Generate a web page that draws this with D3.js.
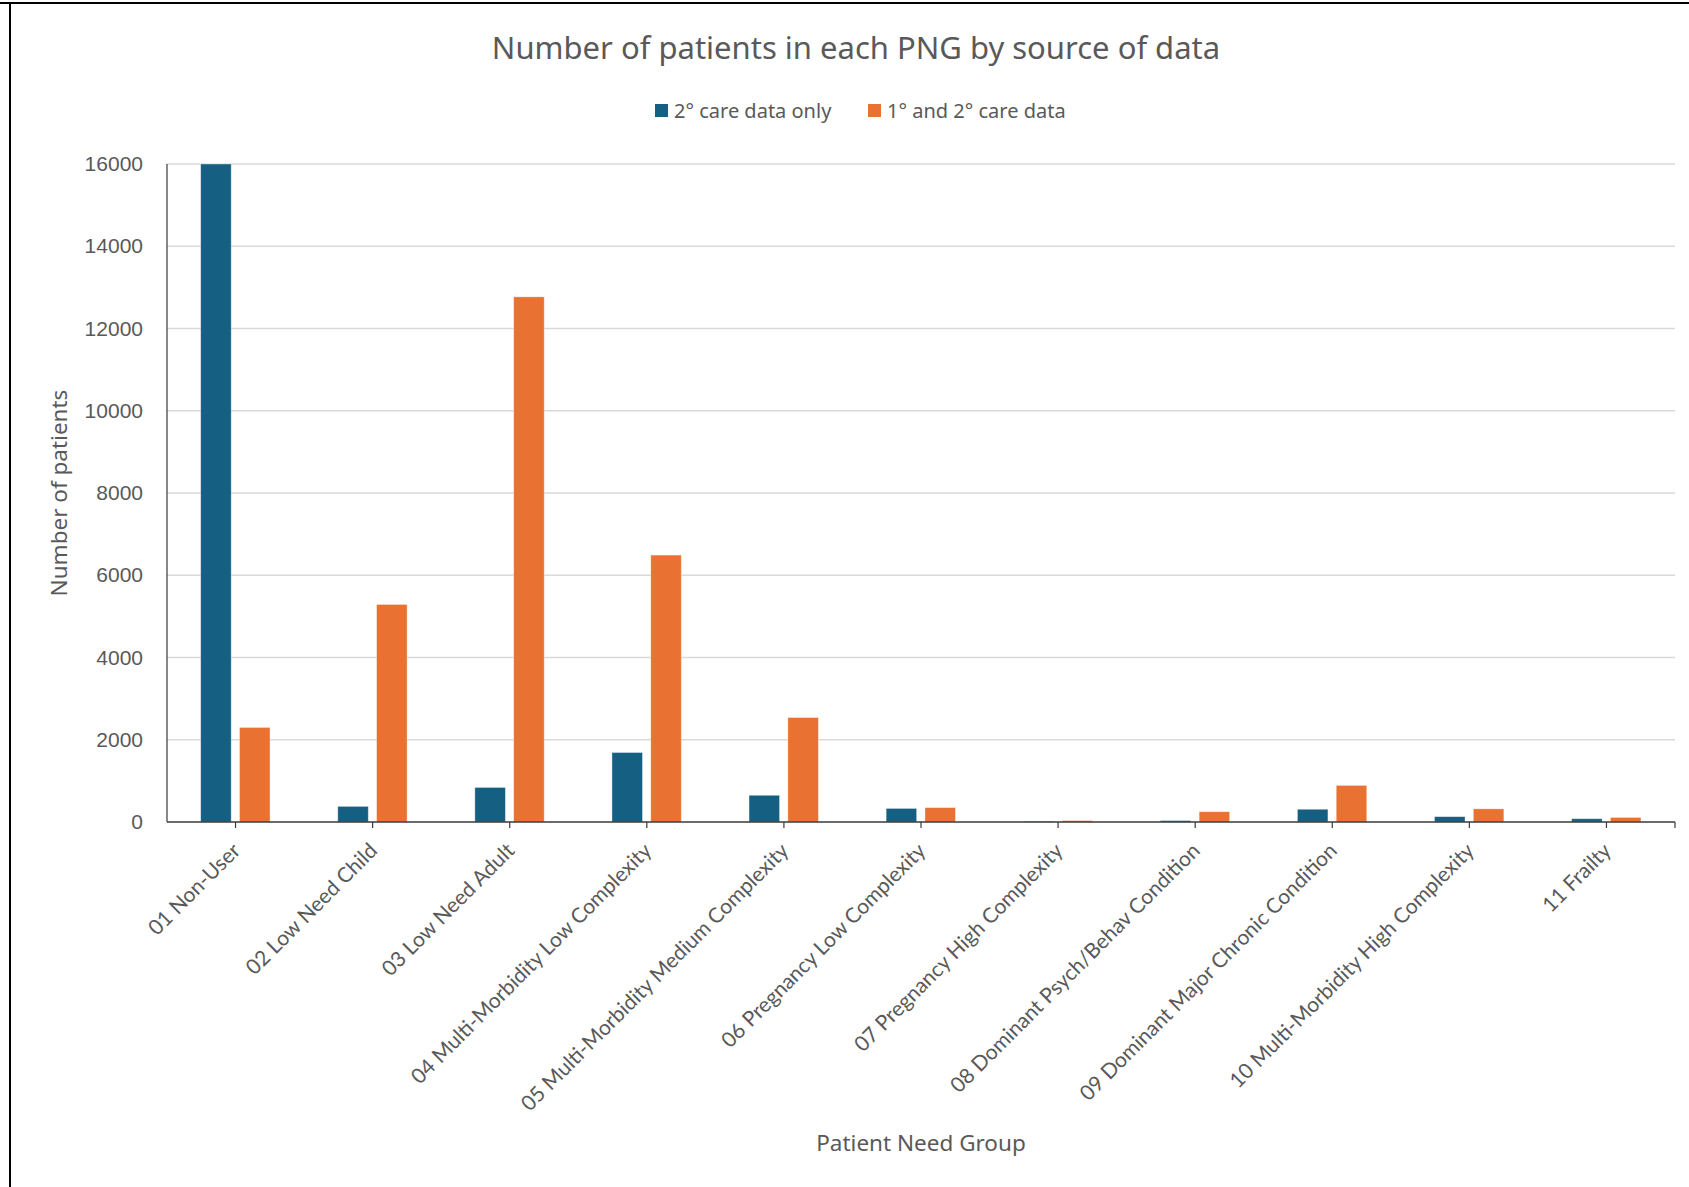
<!DOCTYPE html>
<html>
<head>
<meta charset="utf-8">
<script src="https://cdn.jsdelivr.net/npm/d3@7"></script>
<style>
  html, body { margin: 0; padding: 0; background: #fff; }
  svg { display: block; }
</style>
</head>
<body>
<svg id="chart" width="1689" height="1187"></svg>
<script>
// Patient Need Groups and counts for each data source
const categories = [
  "01 Non-User",
  "02 Low Need Child",
  "03 Low Need Adult",
  "04 Multi-Morbidity Low Complexity",
  "05 Multi-Morbidity Medium Complexity",
  "06 Pregnancy Low Complexity",
  "07 Pregnancy High Complexity",
  "08 Dominant Psych/Behav Condition",
  "09 Dominant Major Chronic Condition",
  "10 Multi-Morbidity High Complexity",
  "11 Frailty"
];
const seriesNames = ["2° care data only", "1° and 2° care data"];
const secondaryOnly = [16000, 380, 840, 1690, 650, 330, 15, 35, 310, 130, 80];
const primaryAndSecondary = [2300, 5290, 12770, 6490, 2540, 350, 35, 250, 890, 320, 110];
const yTicks = [0, 2000, 4000, 6000, 8000, 10000, 12000, 14000, 16000];

const colors = ["#156082", "#E97132"];
const textColor = "#595959";

const rows = categories.map((c, i) => ({
  category: c,
  values: [secondaryOnly[i], primaryAndSecondary[i]]
}));

const svg = d3.select("#chart");
const margin = { left: 167, right: 14, top: 164, bottom: 365 };
const W = 1689, H = 1187;
const x0 = margin.left, x1 = W - margin.right;
const yTop = margin.top, yBase = H - margin.bottom;

// Frame lines of the chart area
svg.append("line").attr("x1", 0).attr("x2", W).attr("y1", 3).attr("y2", 3)
  .attr("stroke", "#000").attr("stroke-width", 2);
svg.append("line").attr("x1", 10).attr("x2", 10).attr("y1", 3).attr("y2", H)
  .attr("stroke", "#000").attr("stroke-width", 2);

const x = d3.scaleBand().domain(categories).range([x0, x1]).padding(0);
const bw = x.bandwidth();
const xs = d3.scaleBand().domain([0, 1])
  .range([bw * 0.2457, bw * 0.7515]).paddingInner(0.214).paddingOuter(0);
const y = d3.scaleLinear().domain([0, 16000]).range([yBase, yTop]);

// Horizontal gridlines
svg.append("g").selectAll("line").data(yTicks.filter(t => t > 0)).join("line")
  .attr("x1", x0).attr("x2", x1)
  .attr("y1", d => y(d)).attr("y2", d => y(d))
  .attr("stroke", "#D9D9D9").attr("stroke-width", 1.5);

// Y axis labels
const yAxis = d3.axisLeft(y).tickValues(yTicks).tickSize(0).tickPadding(24)
  .tickFormat(d3.format("d"));
const gy = svg.append("g").attr("transform", `translate(${x0},0)`).call(yAxis);
gy.select(".domain").remove();
gy.selectAll("text")
  .attr("fill", textColor)
  .style("font-family", "'Liberation Sans', Arial, sans-serif")
  .style("font-size", "21px");

// Bars
const groups = svg.append("g").selectAll("g").data(rows).join("g")
  .attr("transform", d => `translate(${x(d.category)},0)`);
groups.selectAll("rect").data(d => d.values.map((v, i) => ({ v, i }))).join("rect")
  .attr("x", d => xs(d.i))
  .attr("width", xs.bandwidth())
  .attr("y", d => y(d.v))
  .attr("height", d => yBase - y(d.v))
  .attr("fill", d => colors[d.i])
  .attr("stroke", "#fff").attr("stroke-opacity", 0.45).attr("stroke-width", 0.8);

// Axis lines
svg.append("line").attr("x1", x0).attr("x2", x0).attr("y1", yTop).attr("y2", yBase)
  .attr("stroke", "#3a3a3a").attr("stroke-width", 1.2);
svg.append("line").attr("x1", x0).attr("x2", x1).attr("y1", yBase).attr("y2", yBase)
  .attr("stroke", "#3a3a3a").attr("stroke-width", 1.5);

// Tick marks under category centres and at the right end
const tickXs = categories.map(c => x(c) + bw / 2).concat([x1]);
svg.append("g").selectAll("line").data(tickXs).join("line")
  .attr("x1", d => d).attr("x2", d => d)
  .attr("y1", yBase).attr("y2", yBase + 6)
  .attr("stroke", "#3a3a3a").attr("stroke-width", 1.2);

// Category labels, rotated
svg.append("g").selectAll("text").data(categories).join("text")
  .attr("transform", d => `translate(${x(d) + bw / 2 + 6},${yBase + 30}) rotate(-45)`)
  .attr("text-anchor", "end")
  .attr("fill", textColor)
  .style("font-family", "Lato, 'Open Sans', sans-serif")
  .style("font-size", "21px")
  .text(d => d);

// Title
svg.append("text")
  .attr("x", 856).attr("y", 59)
  .attr("text-anchor", "middle")
  .attr("fill", textColor)
  .style("font-family", "'Noto Sans', sans-serif")
  .style("font-size", "31px")
  .text("Number of patients in each PNG by source of data");

// Legend
const legendItems = [{ x: 655, i: 0 }, { x: 868, i: 1 }];
const lg = svg.append("g").selectAll("g").data(legendItems).join("g")
  .attr("transform", d => `translate(${d.x},111)`);
lg.append("rect").attr("x", 0).attr("y", -7).attr("width", 13).attr("height", 13)
  .attr("fill", d => colors[d.i]);
lg.append("text").attr("x", 19).attr("y", 7)
  .attr("fill", textColor)
  .style("font-family", "'Noto Sans', sans-serif")
  .style("font-size", "20px")
  .text(d => seriesNames[d.i]);

// Axis titles
svg.append("text")
  .attr("transform", `translate(67,${(yTop + yBase) / 2}) rotate(-90)`)
  .attr("text-anchor", "middle")
  .attr("fill", textColor)
  .style("font-family", "'Noto Sans', sans-serif")
  .style("font-size", "22.5px")
  .text("Number of patients");

svg.append("text")
  .attr("x", 921).attr("y", 1151)
  .attr("text-anchor", "middle")
  .attr("fill", textColor)
  .style("font-family", "'Noto Sans', sans-serif")
  .style("font-size", "22.5px")
  .text("Patient Need Group");
</script>
</body>
</html>
